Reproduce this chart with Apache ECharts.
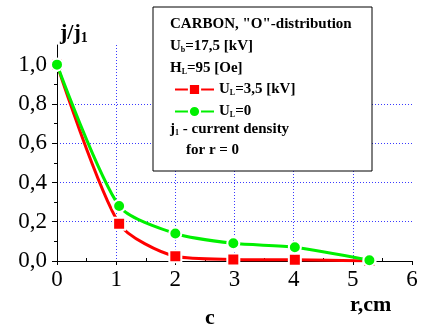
<!DOCTYPE html>
<html><head><meta charset="utf-8">
<script src="https://cdn.jsdelivr.net/npm/echarts@6/dist/echarts.min.js"></script>
<style>html,body{margin:0;padding:0;background:#fff}#c{width:422px;height:329px}</style>
</head><body><div id="c"></div>
<script>
var rValues = [0, 1.05, 2, 2.98, 4.02, 5.28];
var redValues = [1.0, 0.19, 0.024, 0.008, 0.006, 0.0];
var greenValues = [1.0, 0.28, 0.14, 0.09, 0.07, 0.004];
var xTickValues = [0, 1, 2, 3, 4, 5, 6];
var xMinorTickValues = [0.5, 1.5, 2.5, 3.5, 4.5, 5.5];
var yTickValues = [0, 0.2, 0.4, 0.6, 0.8, 1.0];
var redName = 'UL=3,5 [kV]';
var greenName = 'UL=0';

var SERIF = '"Liberation Serif","DejaVu Serif",serif';
var chart = echarts.init(document.getElementById('c'));
function pairs(xs, ys){ return xs.map(function(x,i){return [x, ys[i]];}); }
var gridLine = {show:true, showMinLine:false, showMaxLine:false, lineStyle:{color:'#3a3aff', type:[1,2], width:1}};
var sub = {font:'bold 8px '+SERIF, fill:'#000', color:'#000', verticalAlign:'bottom', padding:[6,0,0,0]};
var bld = {font:'bold 15px '+SERIF, fill:'#000'};
chart.setOption({
  animation:false,
  grid:{left:57, right:10, top:45, bottom:68, containLabel:false},
  xAxis:[{
    type:'value', min:0, max:6, interval:1,
    axisLine:{lineStyle:{color:'#000', width:1}},
    axisTick:{show:true, length:4, customValues:xTickValues, lineStyle:{color:'#000'}},
    axisLabel:{customValues:xTickValues, fontFamily:SERIF, fontSize:23, color:'#000', margin:7},
    splitLine:gridLine
  },{
    type:'value', min:0, max:6, position:'bottom',
    axisLine:{show:false},
    axisTick:{show:true, inside:true, length:3, customValues:xMinorTickValues, lineStyle:{color:'#000'}},
    axisLabel:{show:false}, splitLine:{show:false}
  }],
  yAxis:{
    type:'value', min:0, max:1.1, interval:0.2,
    axisLine:{show:true, lineStyle:{color:'#000', width:1}},
    axisTick:{show:true, length:5, customValues:yTickValues, lineStyle:{color:'#000'}},
    minorTick:{show:true, splitNumber:2, length:3, lineStyle:{color:'#000'}},
    axisLabel:{customValues:yTickValues, fontFamily:SERIF, fontSize:23, color:'#000', margin:10,
      formatter:function(v){return v.toFixed(1).replace('.', ',');}},
    splitLine:gridLine
  },
  legend:{
    z:10, orient:'vertical', left:169, top:77, itemWidth:39, itemHeight:14, itemGap:7,
    data:[redName, greenName],
    formatter:function(n){ return n===redName ? '{b|U}{s|L}{b|=3,5 [kV]}' : '{b|U}{s|L}{b|=0}'; },
    textStyle:{rich:{
      b:{fontFamily:SERIF, fontWeight:'bold', fontSize:15, color:'#000'},
      s:{fontFamily:SERIF, fontWeight:'bold', fontSize:8, color:'#000', verticalAlign:'bottom', padding:[6,0,0,0]}
    }}
  },
  graphic:[
    {type:'rect', z:2, shape:{x:153, y:7, width:219, height:164}, style:{fill:'#fff', stroke:'#000', lineWidth:1}},
    {type:'text', z:6, left:170, top:17, style:{text:'CARBON, "O"-distribution', font:'bold 15px '+SERIF, fill:'#000'}},
    {type:'text', z:6, left:170, top:39, style:{text:'{b|U}{s|b}{b|=17,5 [kV]}', rich:{b:bld, s:sub}}},
    {type:'text', z:6, left:170, top:61, style:{text:'{b|H}{s|L}{b|=95 [Oe]}', rich:{b:bld, s:sub}}},
    {type:'text', z:6, left:170, top:122, style:{text:'{b|j}{s|1}{b| - current density}', rich:{b:bld, s:sub}}},
    {type:'text', z:6, left:186, top:143, style:{text:'for r = 0', font:'bold 15px '+SERIF, fill:'#000'}},
    {type:'text', z:6, left:60, top:22, style:{text:'{b|j/j}{s|1}', rich:{
      b:{font:'bold 22px '+SERIF, fill:'#000'}, s:{font:'bold 14px '+SERIF, fill:'#000', verticalAlign:'bottom', padding:[10,0,0,0]}}}},
    {type:'text', z:6, left:350, top:294, style:{text:'r,cm', font:'bold 22px '+SERIF, fill:'#000'}},
    {type:'text', z:6, left:205, top:307, style:{text:'c', font:'bold 22px '+SERIF, fill:'#000'}}
  ],
  series:[
    {name:redName, type:'line', xAxisIndex:0, data:pairs(rValues, redValues), smooth:0.25,
     symbol:'rect', symbolSize:12, lineStyle:{color:'#ff0000', width:3}, z:3,
     itemStyle:{color:'#ff0000', borderColor:'#fff', borderWidth:2}},
    {name:greenName, type:'line', xAxisIndex:0, data:pairs(rValues, greenValues), smooth:0.25,
     symbol:'circle', symbolSize:12, lineStyle:{color:'#00f000', width:3}, z:4,
     itemStyle:{color:'#00f000', borderColor:'#fff', borderWidth:2}}
  ]
});
</script></body></html>
